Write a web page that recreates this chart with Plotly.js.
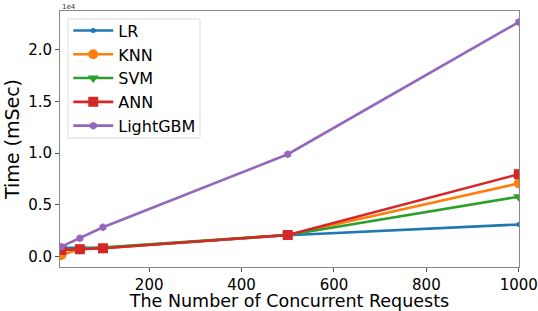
<!DOCTYPE html>
<html>
<head>
<meta charset="utf-8">
<script src="https://cdn.plot.ly/plotly-3.0.1.min.js"></script>
<style>html,body{margin:0;padding:0;background:#fff;}#chart{width:538px;height:311px;}</style>
</head>
<body>
<div id="chart"></div>
<script>
const requests = [10, 50, 100, 500, 1000];
const seriesNames = ["LR", "KNN", "SVM", "ANN", "LightGBM"];
const lrTime = [850, 830, 850, 2050, 3100];
const knnTime = [150, 700, 800, 2080, 7080];
const svmTime = [600, 720, 900, 2080, 5790];
const annTime = [630, 700, 790, 2080, 7970];
const lightgbmTime = [950, 1760, 2830, 9900, 22700];
const yTickVals = [0, 5000, 10000, 15000, 20000];
const yTickText = ["0.0", "0.5", "1.0", "1.5", "2.0"];
const xTickVals = [200, 400, 600, 800, 1000];

const colors = ["#1f77b4", "#ff7f0e", "#2ca02c", "#d62728", "#9467bd"];
const symbols = ["circle", "circle", "triangle-down", "square", "hexagon"];
const sizes = [5, 10, 10, 10, 8];
const values = [lrTime, knnTime, svmTime, annTime, lightgbmTime];

const traces = seriesNames.map((n, i) => ({
  x: requests, y: values[i], name: n, type: "scatter", mode: "lines+markers",
  line: {color: colors[i], width: 2.6},
  marker: {color: colors[i], symbol: symbols[i], size: sizes[i]},
  cliponaxis: true
}));

const layout = {
  width: 538, height: 311,
  margin: {l: 60, r: 19, t: 11, b: 44},
  paper_bgcolor: "#fff", plot_bgcolor: "#fff",
  font: {family: "DejaVu Sans", color: "#000"},
  showlegend: true,
  legend: {
    x: 0.018, y: 0.99, xanchor: "left", yanchor: "top",
    bgcolor: "rgba(0,0,0,0)", borderwidth: 0,
    font: {size: 16, family: "DejaVu Sans"}, itemwidth: 40, tracegroupgap: 0
  },
  shapes: [{type: "rect", xref: "paper", yref: "paper", x0: 0.0174, x1: 0.305, y0: 0.504, y1: 0.969,
    line: {color: "#dcdcdc", width: 1}, fillcolor: "rgba(255,255,255,0.8)", layer: "above"}],
  xaxis: {
    range: [7, 1000.5], tickvals: xTickVals, ticks: "outside", ticklen: 4, tickcolor: "#555",
    showgrid: false, zeroline: false, showline: true, linecolor: "#888", linewidth: 1, mirror: true,
    tickfont: {size: 15}, title: {text: "The Number of Concurrent Requests", font: {size: 17.5}, standoff: 2}
  },
  yaxis: {
    range: [-1020, 23770], tickvals: yTickVals, ticktext: yTickText, ticks: "outside", ticklen: 4, tickcolor: "#555",
    showgrid: false, zeroline: false, showline: true, linecolor: "#888", linewidth: 1, mirror: true,
    tickfont: {size: 15}, title: {text: "Time (mSec)", font: {size: 19}, standoff: 3}
  },
  annotations: [{text: "1e4", xref: "paper", yref: "paper", x: 0, y: 1, xanchor: "left", yanchor: "bottom",
    showarrow: false, font: {size: 7, color: "#333"}, yshift: -2}]
};
Plotly.newPlot("chart", traces, layout, {displayModeBar: false, staticPlot: true});
</script>
</body>
</html>
